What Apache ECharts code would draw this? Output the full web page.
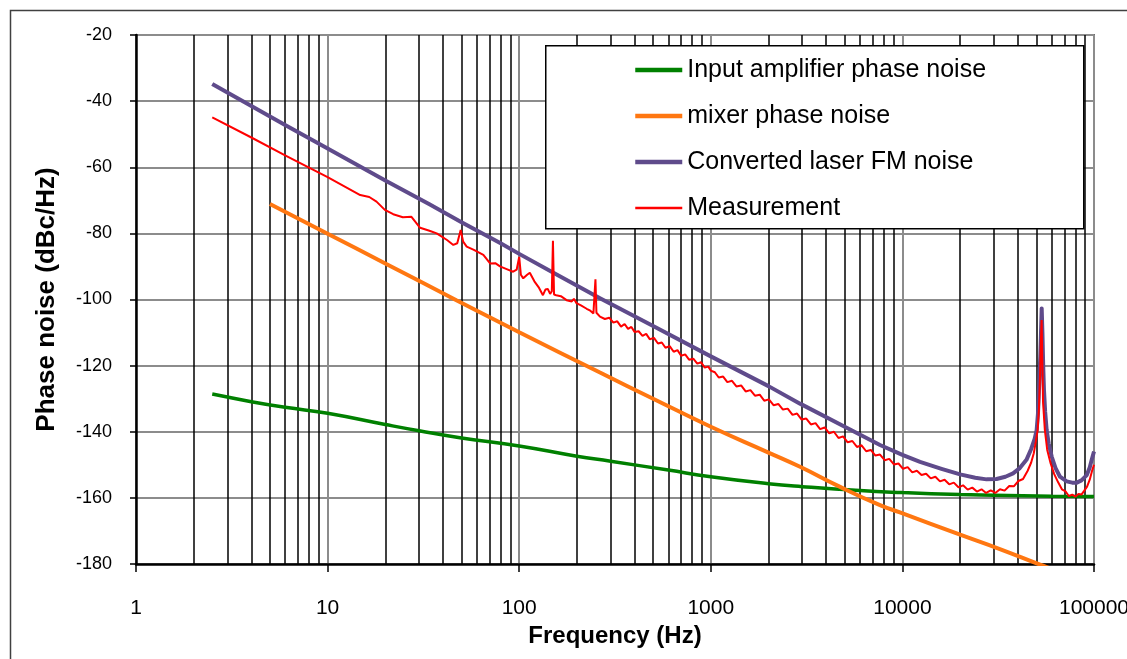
<!DOCTYPE html>
<html>
<head>
<meta charset="utf-8">
<script src="https://cdn.jsdelivr.net/npm/echarts@6/dist/echarts.min.js"></script>
<style>
html,body{margin:0;padding:0;background:#fff;}
#c{width:1127px;height:659px;}
</style>
</head>
<body>
<div id="c"></div>
<script>
// ---- data ----
var seriesNames = ["Input amplifier phase noise", "mixer phase noise", "Converted laser FM noise", "Measurement"];
var xTickValues = [1, 10, 100, 1000, 10000, 100000];
var minorGridValues = [2,3,4,5,6,7,8,9,20,30,40,50,60,70,80,90,200,300,400,500,600,700,800,900,
  2000,3000,4000,5000,6000,7000,8000,9000,20000,30000,40000,50000,60000,70000,80000,90000];

var amplifierNoise = [[2.5,-128.6],[4,-130.9],[6,-132.6],[10,-134.4],[20,-137.8],[30,-139.7],[50,-141.9],
  [100,-144.3],[200,-147.4],[300,-148.9],[600,-151.6],[1000,-153.6],[2000,-155.7],[3000,-156.6],
  [6000,-157.8],[10000,-158.4],[20000,-159.0],[30000,-159.2],[60000,-159.5],[100000,-159.6]];

var mixerNoise = [[5,-71.1],[10,-80.1],[20,-89.1],[47,-100.2],[100,-109.9],[264,-122.1],[500,-130.0],
  [1000,-138.5],[2000,-146.3],[2922,-150.6],[4700,-156.6],[7640,-162.2],[9710,-164.4],[20000,-171.1],
  [32000,-175.4],[52300,-180.2],[60000,-181.5]];

var laserNoise = [[2.5,-34.8],[4,-41.5],[6,-47.2],[10,-54.3],[20,-64.0],[34,-71.2],[50,-76.6],[80,-83.0],
  [100,-86.2],[150,-91.8],[264,-99.6],[500,-108.0],[1000,-117.2],[2000,-126.2],[2922,-131.5],
  [5000,-138.5],[7640,-144.0],[10000,-147.0],[12360,-149.1],[16000,-151.2],[20000,-152.9],
  [24000,-153.9],[27500,-154.4],[31000,-154.3],[34500,-153.6],[37800,-152.6],[41000,-151.0],
  [44400,-148.5],[47000,-145.2],[49000,-142.2],[50200,-139.5],[51000,-134.5],[51600,-127.4],
  [52000,-122.0],[52450,-117.3],[52900,-110.0],[53330,-102.7],[53800,-110.0],[54300,-120.0],
  [54820,-127.4],[55600,-134.0],[56620,-139.5],[58000,-143.5],[60130,-147.5],[63000,-151.0],
  [66450,-153.6],[72000,-155.0],[77000,-155.4],[81300,-155.4],[86000,-154.7],[91700,-153.1],
  [95000,-150.8],[97300,-148.5],[100000,-146.0]];

var measurement = [[2.5,-44.9],[4,-51.0],[6,-56.4],[10,-63.0],[14.8,-68.4],[16.5,-69.0],[18,-70.4],
  [19.9,-72.9],[22,-74.2],[24.7,-75.1],[27.4,-75.0],[30.4,-78.3],[34,-79.2],[37.1,-80.0],[42,-82.0],
  [45.3,-83.5],[47.5,-83.0],[49.5,-79.0],[51,-82.5],[53.2,-84.0],[58,-85.0],[65,-86.5],[70.5,-89.1],
  [75,-89.0],[79.4,-90.0],[86,-90.8],[93,-91.6],[97,-91.0],[100,-87.1],[102,-92.5],[105,-93.6],
  [110,-92.5],[113.6,-91.9],[120,-94.5],[127,-96.5],[133,-98.7],[137,-97.0],[141,-96.8],[145,-98.3],
  [148,-97.5],[150,-82.2],[152,-98.5],[156,-98.7],[165,-99.0],[176.7,-100.2],[188,-100.6],
  [193,-99.8],[199,-101.1],[210,-101.8],[225,-102.8],[235,-103.4],[244,-104.2],[248,-103.6],
  [250,-93.9],[253,-104.0],[264,-105.2],[280,-105.9],[295,-105.5],[310,-107.0],[325,-106.6],
  [340,-108.2],[355,-107.4],[370,-108.9],[385,-108.3],[400,-109.8],[420,-109.6],[440,-111.0],
  [460,-110.4],[480,-112.0],[505,-111.6],[530,-113.3],[555,-113.0],[580,-114.6],[610,-114.1],
  [640,-115.8],[670,-115.3],[700,-117.0],[735,-116.6],[770,-118.2],[810,-117.9],[850,-119.4],
  [890,-119.0],[930,-120.6],[970,-120.3],[1000,-121.5],[1050,-122.0],[1100,-123.6],[1160,-123.3],
  [1220,-125.0],[1290,-124.6],[1360,-126.3],[1440,-126.0],[1520,-127.8],[1610,-127.4],[1700,-129.1],
  [1800,-128.8],[1900,-130.6],[2010,-130.2],[2130,-132.0],[2250,-131.6],[2380,-133.3],[2520,-133.0],
  [2670,-134.9],[2820,-134.5],[2980,-136.3],[3150,-136.0],[3330,-137.8],[3520,-137.4],[3720,-139.2],
  [3930,-138.7],[4150,-140.5],[4390,-140.0],[4640,-141.9],[4900,-141.4],[5180,-143.2],[5480,-142.8],
  [5790,-144.6],[6120,-144.1],[6470,-145.9],[6840,-145.5],[7230,-147.2],[7640,-146.9],[8080,-148.6],
  [8540,-148.2],[9030,-149.9],[9540,-149.6],[10080,-151.2],[10650,-150.7],[11260,-152.3],
  [11900,-151.8],[12580,-153.1],[13300,-152.7],[14060,-154.1],[14860,-153.6],[15710,-155.0],
  [16600,-154.5],[17550,-155.9],[18550,-155.4],[19610,-156.8],[20730,-156.2],[21910,-157.5],
  [23160,-156.9],[24480,-158.1],[25880,-157.4],[27350,-158.5],[28910,-157.7],[30560,-158.5],
  [32300,-157.4],[34150,-157.8],[36100,-156.4],[38150,-156.5],[40330,-154.9],[42630,-154.3],
  [45060,-151.8],[47000,-149.3],[48500,-146.5],[49700,-143.0],[50800,-139.5],[51600,-133.0],
  [52200,-124.0],[52800,-113.0],[53300,-106.2],[53700,-118.0],[54200,-131.0],[55400,-139.5],
  [57000,-145.5],[59400,-149.6],[62000,-152.8],[65000,-155.3],[68000,-157.4],[71000,-158.0],
  [74000,-159.5],[77000,-159.0],[80000,-159.6],[83000,-158.8],[86000,-159.0],[89000,-157.8],
  [92000,-156.6],[95000,-154.5],[97500,-152.0],[100000,-150.0]];

var FONT = "'Liberation Sans', Arial, sans-serif";
var COLORS = ['#008000', '#ff7711', '#5f4b8b', '#ff0000'];
var WIDTHS = [3.5, 4, 4, 2];

var chart = echarts.init(document.getElementById('c'), null, {renderer: 'canvas'});
var option = {
  animation: false,
  backgroundColor: '#fff',
  graphic: [
    {type: 'rect', left: 8, top: 8, shape: {x: 0, y: 0, width: 1200, height: 700},
     style: {fill: 'none', stroke: '#404040', lineWidth: 1.5}, z: -1, silent: true},
    {type: 'rect', left: 545, top: 45, shape: {x: 0, y: 0, width: 538, height: 183},
     style: {fill: '#fff', stroke: '#000', lineWidth: 1.5}, z: 10, silent: true}
  ],
  grid: {left: 136, right: 33, top: 35, bottom: 95, show: true, borderColor: '#000', borderWidth: 1.5,
    backgroundColor: 'transparent', containLabel: false, outerBoundsMode: 'none'},
  legend: {
    data: seriesNames.map(function (n, i) {
      return {name: n, lineStyle: {color: COLORS[i], width: i === 3 ? 2.5 : 4.5}};
    }),
    orient: 'vertical',
    left: 633, top: 57,
    itemWidth: 47, itemHeight: 14, itemGap: 20,
    padding: 0,
    z: 11,
    itemStyle: {opacity: 0},
    textStyle: {fontFamily: FONT, fontSize: 25, color: '#000', lineHeight: 26}
  },
  xAxis: {
    type: 'log', logBase: 10, min: 1, max: 100000, splitNumber: 5,
    name: 'Frequency (Hz)', nameLocation: 'middle', nameGap: 56,
    nameTextStyle: {fontFamily: FONT, fontSize: 24, fontWeight: 'bold', color: '#000'},
    axisLine: {show: true, onZero: false, lineStyle: {color: '#000', width: 2.5}},
    axisTick: {show: true, inside: false, length: 8, lineStyle: {color: '#000', width: 1.5}},
    axisLabel: {fontFamily: FONT, fontSize: 21, color: '#000', margin: 34, hideOverlap: false,
      formatter: function (v) { return String(Math.round(v)); }},
    splitLine: {show: true, lineStyle: {color: '#8c8c8c', width: 2}},
    minorTick: {show: false}
  },
  yAxis: {
    type: 'value', min: -180, max: -20, interval: 20,
    name: 'Phase noise (dBc/Hz)', nameLocation: 'middle', nameGap: 76, nameRotate: 90,
    nameTextStyle: {fontFamily: FONT, fontSize: 26, fontWeight: 'bold', color: '#000'},
    axisLine: {show: true, lineStyle: {color: '#000', width: 2.5}},
    axisTick: {show: true, inside: false, length: 6, lineStyle: {color: '#000', width: 1.5}},
    axisLabel: {fontFamily: FONT, fontSize: 18, color: '#000', margin: 24},
    splitLine: {show: true, lineStyle: {color: '#8c8c8c', width: 2}}
  },
  series: [
    {
      name: 'minor-grid', type: 'line', data: [], silent: true, z: 1,
      markLine: {
        silent: true, symbol: ['none', 'none'], z: 1, animation: false,
        label: {show: false},
        lineStyle: {color: '#000', width: 1.5, type: 'solid'},
        emphasis: {disabled: true},
        data: minorGridValues.map(function (v) { return {xAxis: v}; })
      }
    },
    {name: seriesNames[0], type: 'line', data: amplifierNoise, symbol: 'none', smooth: true, z: 3,
     lineStyle: {color: COLORS[0], width: WIDTHS[0]}, itemStyle: {color: COLORS[0]}},
    {name: seriesNames[1], type: 'line', data: mixerNoise, symbol: 'none', smooth: true, z: 3,
     lineStyle: {color: COLORS[1], width: WIDTHS[1]}, itemStyle: {color: COLORS[1]}},
    {name: seriesNames[2], type: 'line', data: laserNoise, symbol: 'none', smooth: false, z: 4,
     lineStyle: {color: COLORS[2], width: WIDTHS[2], join: 'round'}, itemStyle: {color: COLORS[2]}},
    {name: seriesNames[3], type: 'line', data: measurement, symbol: 'none', smooth: false, z: 5,
     lineStyle: {color: COLORS[3], width: WIDTHS[3]}, itemStyle: {color: COLORS[3]}}
  ]
};
chart.setOption(option);
</script>
</body>
</html>
